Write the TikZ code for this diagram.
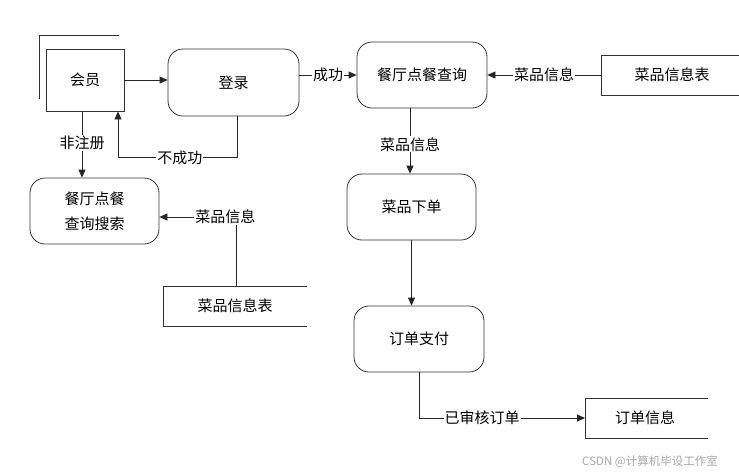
\documentclass[tikz,border=0pt]{standalone}
\usepackage{fontspec}
\setmainfont{Noto Sans CJK SC}
\usetikzlibrary{arrows.meta}
\begin{document}
\begin{tikzpicture}[x=1pt,y=-1pt,
  txt/.style={font=\fontsize{15}{19}\selectfont},
  proc/.style={draw=black!80, line width=0.8pt, rounded corners=15pt, txt, align=center, inner sep=0pt},
  ent/.style={draw=black!80, line width=0.8pt, txt, inner sep=0pt},
  lbl/.style={fill=white, inner sep=1pt, txt},
  arr/.style={draw=black!85, line width=0.8pt, -{Triangle[length=8pt,width=7pt]}},
  ln/.style={draw=black!80, line width=0.8pt}]
\useasboundingbox (0,0) rectangle (739,475);

% nodes
\node[ent, minimum width=78pt, minimum height=62pt] (hy) at (85,80) {会员};
\draw[ln] (39,99) -- (39,35) -- (119,35);
\node[proc, minimum width=131pt, minimum height=67pt] (dl) at (233.5,82.5) {登录};
\node[proc, minimum width=130pt, minimum height=66pt] (cx) at (422,75) {餐厅点餐查询};
\node[proc, minimum width=129pt, minimum height=66pt] (ss) at (94.5,211) {餐厅点餐\\[6pt]查询搜索};
\node[proc, minimum width=129pt, minimum height=66pt] (xd) at (411.5,207) {菜品下单};
\node[proc, minimum width=130pt, minimum height=66pt] (zf) at (419,339) {订单支付};

% data stores (open on the right)
\draw[ln] (739,55) -- (601,55) -- (601,95) -- (739,95);
\node[txt] (t1) at (672,75) {菜品信息表};
\coordinate (t1l) at (601,75);
\draw[ln] (307,286) -- (163,286) -- (163,326) -- (307,326);
\node[txt] (t2) at (235,306) {菜品信息表};
\coordinate (t2t) at (236,286);
\draw[ln] (708,398) -- (585,398) -- (585,438) -- (708,438);
\node[txt] (t3) at (645,418) {订单信息};
\coordinate (t3l) at (585,418);

% connectors
\draw[arr] (hy.east) -- (hy.east -| dl.west);
\draw[arr] (dl.east |- cx.west) -- node[lbl]{成功} (cx.west);
\draw[arr] ([xshift=3.5pt]dl.south) -- ++(0,41) -| node[lbl,pos=0.24]{不成功} ([xshift=33pt]hy.south);
\draw[arr] ([xshift=-3pt]hy.south) -- node[lbl,pos=0.48]{非注册} ([xshift=-3pt]hy.south |- ss.north);
\draw[arr] (t1l) -- node[lbl]{菜品信息} (cx.east |- t1l);
\draw[arr] ([xshift=-1.5pt]xd.north |- cx.south) -- node[lbl,pos=0.55]{菜品信息} ([xshift=-1.5pt]xd.north);
\draw[arr] (t2t) |- node[lbl,pos=0.57]{菜品信息} (ss.east |- 0,217);
\draw[arr] (xd.south) -- (xd.south |- zf.north);
\draw[arr] (zf.south) |- node[lbl,pos=0.69]{已审核订单} (t3l);

% watermark
\node[font=\fontsize{11.5}{13}\selectfont, text=black!35] (wm) at (650,462) {CSDN @计算机毕设工作室};
\end{tikzpicture}
\end{document}
